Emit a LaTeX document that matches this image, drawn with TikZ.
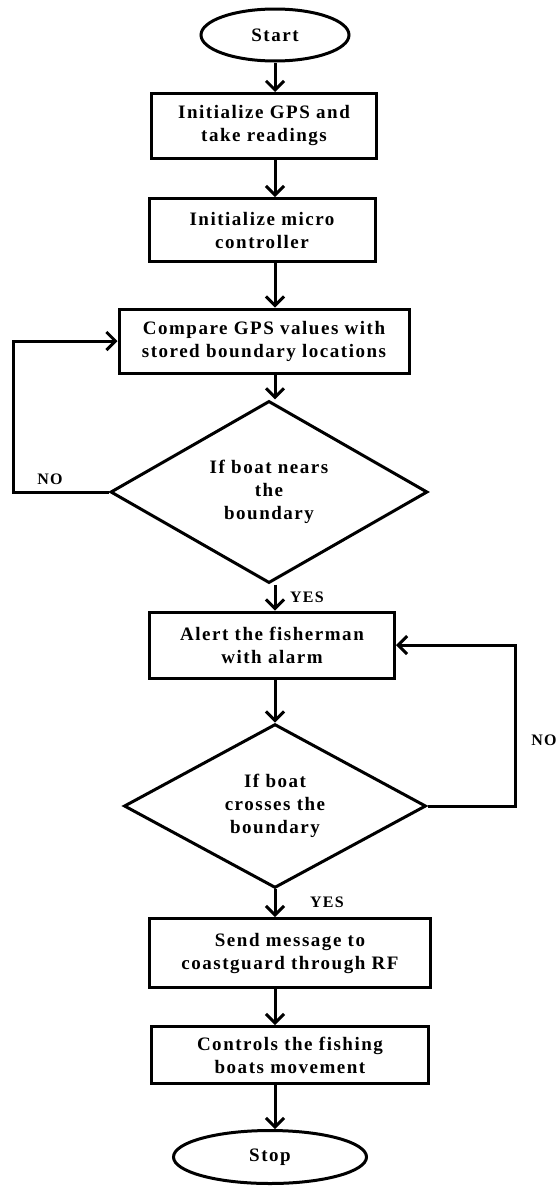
\documentclass[tikz,border=0pt]{standalone}
\usepackage{fontspec}
\setmainfont{Liberation Serif}[LetterSpace=8]
\usepackage{tikz}
\usetikzlibrary{positioning}
\usetikzlibrary{shapes.geometric}
\usetikzlibrary{arrows.meta}

\begin{document}
\begin{tikzpicture}[x=1pt,y=-1pt,
  every node/.style={font=\fontsize{19}{23}\selectfont\bfseries},
  terminal/.style={draw,ellipse,line width=3pt,inner sep=0pt},
  process/.style={draw,rectangle,line width=3pt,align=center,inner sep=0pt},
  decision/.style={draw,diamond,line width=3pt,align=center,inner sep=0pt},
  tag/.style={font=\fontsize{16}{18}\selectfont\bfseries},
  arr/.style={line width=3pt,-{Straight Barb[length=9pt,width=18pt,line width=3pt]}}]

\useasboundingbox (0,0) rectangle (559,1186);

\node[terminal, minimum width=148pt, minimum height=52pt] (start) at (275,35) {Start};

\node[process, minimum width=225pt, minimum height=65pt] (gps) at (264,126) {Initialize GPS and\\take readings};
\node[process, minimum width=226pt, minimum height=63pt] (micro) at (262,230) {Initialize micro\\controller};
\node[process, minimum width=290pt, minimum height=64pt] (compare) at (264,341) {Compare GPS values with\\stored boundary locations};

\node[decision, minimum width=317pt, minimum height=162pt] (nears) at (269,492) {If boat nears\\the\\boundary};

\node[process, minimum width=245pt, minimum height=66pt] (alert) at (272,645) {Alert the fisherman\\with alarm};

\node[decision, minimum width=302pt, minimum height=157pt] (crosses) at (275,806) {If boat\\crosses the\\boundary};

\node[process, minimum width=281pt, minimum height=69pt] (send) at (290,953) {Send message to\\coastguard through RF};
\node[process, minimum width=277pt, minimum height=57pt] (control) at (290,1055) {Controls the fishing\\boats movement};

\node[terminal, minimum width=193pt, minimum height=53pt] (stop) at (270,1157) {Stop};

\node[tag] (nonears) at (50,479) {NO};
\node[tag] (yesnears) at (307,597) {YES};
\node[tag] (nocross) at (544,740) {NO};
\node[tag] (yescross) at (327,902) {YES};

\coordinate (lx) at (13,0);
\coordinate (rx) at (515,0);

\draw[arr] (start.south) -- (gps.north -| start);
\draw[arr] (gps.south -| start) -- (micro.north -| start);
\draw[arr] (micro.south -| start) -- (compare.north -| start);
\draw[arr] (compare.south -| start) -- (nears.north -| start);
\draw[arr] (nears.south -| start) -- (alert.north -| start);
\draw[arr] (alert.south -| start) -- (crosses.north);
\draw[arr] (crosses.south) -- (send.north -| crosses);
\draw[arr] (send.south -| crosses) -- (control.north -| crosses);
\draw[arr] (control.south -| crosses) -- (stop.north -| crosses);

\draw[arr] (nears.west) -- (nears.west -| lx) |- (compare.west);
\draw[arr] (crosses.east) -- (crosses.east -| rx) |- (alert.east);

\end{tikzpicture}
\end{document}
